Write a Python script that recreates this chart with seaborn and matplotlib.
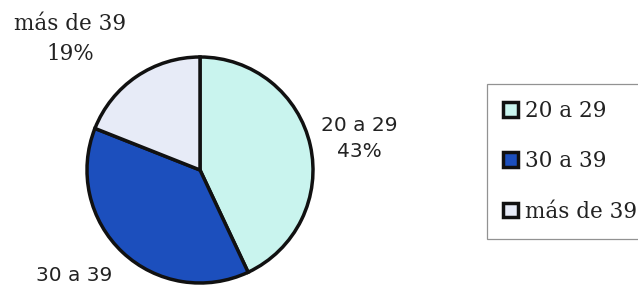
import matplotlib
matplotlib.use("Agg")
import matplotlib.pyplot as plt
import seaborn as sns

# edades y porcentajes del gráfico
grupos = ["20 a 29", "30 a 39", "más de 39"]
porcentajes = [43, 38, 19]
colores = ["#c9f4ee", "#1c4fbd", "#e7ebf7"]

sns.set_theme(style="white")
plt.rcParams['font.family'] = ['DejaVu Serif']
palette = sns.color_palette(colores)

fig = plt.figure(figsize=(6.38, 2.88), dpi=100)
# pie centred at about (200,170) px, radius about 113 px
ax = fig.add_axes([87 / 638, 5 / 288, 226 / 638, 226 / 288])
wedges, _ = ax.pie(porcentajes, colors=palette, startangle=90, counterclock=False,
                   wedgeprops=dict(edgecolor="#111111", linewidth=2.5))
ax.set_xlim(-1, 1)
ax.set_ylim(-1, 1)
ax.set_aspect("equal")
ax.axis("off")

sans = ['DejaVu Sans']
ax.text(1.41, 0.28, f"{grupos[0]}\n{porcentajes[0]}%", ha="center", va="center",
        fontsize=14.5, family=sans, color="#222222", linespacing=1.45)
ax.text(-1.15, 1.16, f"{grupos[2]}\n{porcentajes[2]}%", ha="center", va="center",
        fontsize=15.5, color="#222222", linespacing=1.45)
ax.text(-1.11, -0.93, grupos[1], ha="center", va="center",
        fontsize=14.5, family=sans, color="#222222")

leg = fig.legend(wedges, grupos, loc="upper left", bbox_to_anchor=(487 / 638, 1 - 84 / 288),
                 borderaxespad=0, frameon=True, fancybox=False, edgecolor="#777777",
                 fontsize=15.5, handlelength=0.68, handleheight=0.68, handletextpad=0.35,
                 labelspacing=1.31, borderpad=0.75)
leg.get_frame().set_linewidth(0.9)
for t in leg.get_texts():
    t.set_color("#222222")

fig.savefig("out.png", dpi=100)
